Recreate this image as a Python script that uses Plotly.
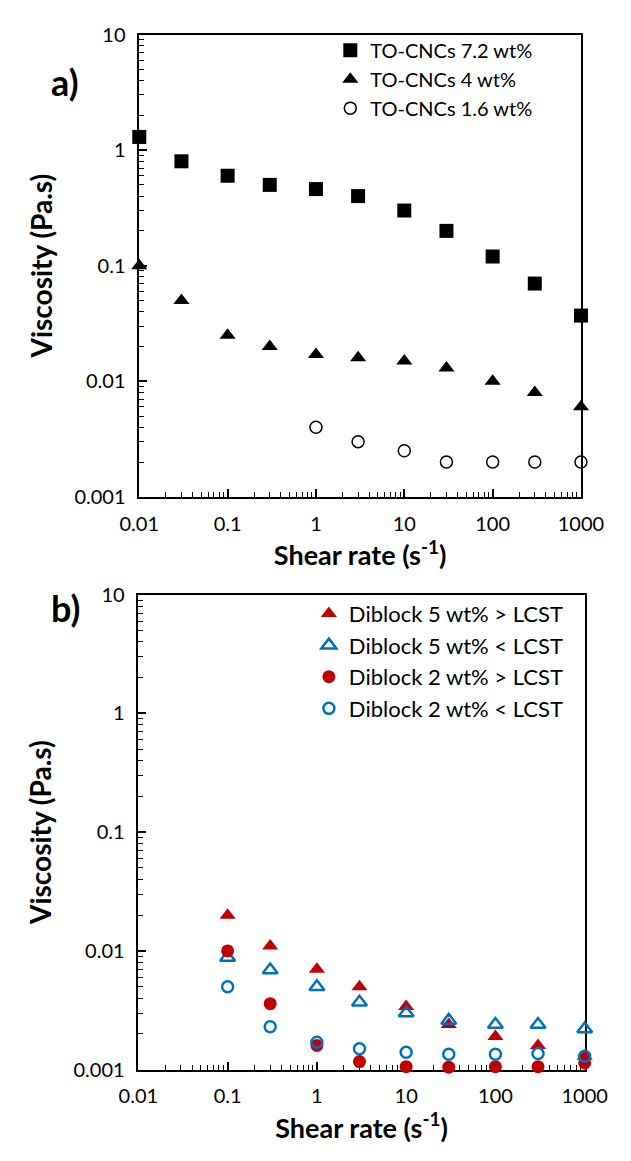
import plotly.graph_objects as go

# ---- data: panel a ----
x_a = [0.01, 0.03, 0.1, 0.3, 1, 3, 10, 30, 100, 300, 1000]
cnc_72 = [1.3, 0.8, 0.6, 0.5, 0.46, 0.4, 0.3, 0.2, 0.12, 0.07, 0.037]
cnc_4 = [0.1, 0.05, 0.025, 0.02, 0.017, 0.016, 0.015, 0.013, 0.01, 0.008, 0.006]
x_a16 = [1, 3, 10, 30, 100, 300, 1000]
cnc_16 = [0.004, 0.003, 0.0025, 0.002, 0.002, 0.002, 0.002]

# ---- data: panel b ----
x_b = [0.1, 0.3, 1, 3, 10, 30, 100, 300, 1000]
d5_above = [0.02, 0.011, 0.007, 0.005, 0.0034, 0.0024, 0.0019, 0.0016, 0.0013]
d5_below = [0.0088, 0.0069, 0.005, 0.0037, 0.003, 0.0026, 0.0024, 0.0024, 0.0022]
d2_above = [0.01, 0.0036, 0.0016, 0.00117, 0.00106, 0.00105, 0.00106, 0.00106, 0.00114]
d2_below = [0.005, 0.0023, 0.0017, 0.0015, 0.0014, 0.00135, 0.00135, 0.00137, 0.0013]

# ---- ticks ----
x_tickvals = [0.01, 0.1, 1, 10, 100, 1000]
x_ticktext = ["0.01", "0.1", "1", "10", "100", "1000"]
y_tickvals = [0.001, 0.01, 0.1, 1, 10]
y_ticktext = ["0.001", "0.01", "0.1", "1", "10"]

RED = "#C00000"
BLUE = "#0070C0"
FONT = "Lato, 'Noto Sans', sans-serif"
W, H = 631, 1161

fig = go.Figure()

fig.add_trace(go.Scatter(x=x_a, y=cnc_72, mode="markers", name="TO-CNCs 7.2 wt%",
                         marker=dict(symbol="square", size=14, color="black"),
                         xaxis="x", yaxis="y", legend="legend", cliponaxis=False))
fig.add_trace(go.Scatter(x=x_a, y=cnc_4, mode="markers", name="TO-CNCs 4 wt%",
                         marker=dict(symbol="triangle-up", size=14, color="black"),
                         xaxis="x", yaxis="y", legend="legend", cliponaxis=False))
fig.add_trace(go.Scatter(x=x_a16, y=cnc_16, mode="markers", name="TO-CNCs 1.6 wt%",
                         marker=dict(symbol="circle-open", size=12, color="black",
                                     line=dict(width=1.5, color="black")),
                         xaxis="x", yaxis="y", legend="legend", cliponaxis=False))

fig.add_trace(go.Scatter(x=x_b, y=d5_above, mode="markers", name="Diblock 5 wt% > LCST",
                         marker=dict(symbol="triangle-up", size=14, color=RED),
                         xaxis="x2", yaxis="y2", legend="legend2", cliponaxis=False))
fig.add_trace(go.Scatter(x=x_b, y=d5_below, mode="markers", name="Diblock 5 wt% < LCST",
                         marker=dict(symbol="triangle-up-open", size=13, color=BLUE,
                                     line=dict(width=2.5, color=BLUE)),
                         xaxis="x2", yaxis="y2", legend="legend2", cliponaxis=False))
fig.add_trace(go.Scatter(x=x_b, y=d2_above, mode="markers", name="Diblock 2 wt% > LCST",
                         marker=dict(symbol="circle", size=13, color=RED),
                         xaxis="x2", yaxis="y2", legend="legend2", cliponaxis=False))
fig.add_trace(go.Scatter(x=x_b, y=d2_below, mode="markers", name="Diblock 2 wt% < LCST",
                         marker=dict(symbol="circle-open", size=11, color=BLUE,
                                     line=dict(width=2.5, color=BLUE)),
                         xaxis="x2", yaxis="y2", legend="legend2", cliponaxis=False))


def xpx(px):
    return px / W


def ypx(py):
    return 1 - py / H


axis_common = dict(
    type="log", showline=True, linecolor="black", linewidth=1.5, mirror=True,
    ticks="inside", ticklen=8, tickwidth=1.5, tickcolor="black",
    showgrid=False, zeroline=False, ticklabelstandoff=8, layer="below traces",
    tickfont=dict(family=FONT, size=20, color="black"),
    minor=dict(ticks="inside", ticklen=5, tickwidth=1, tickcolor="black",
               dtick="D1", showgrid=False),
)
xtitle = dict(text="<b>Shear rate (s<sup>-1</sup>)</b>",
              font=dict(family=FONT, size=27, color="black"), standoff=12)
ytitle = dict(text="<b>Viscosity (Pa.s)</b>",
              font=dict(family=FONT, size=28, color="black"), standoff=14)

fig.update_layout(
    width=W, height=H,
    margin=dict(l=0, r=0, t=0, b=0),
    paper_bgcolor="white", plot_bgcolor="white",
    font=dict(family=FONT, color="black"),
    xaxis=dict(axis_common, domain=[xpx(128), xpx(602)], range=[-2, 3],
               tickvals=x_tickvals, ticktext=x_ticktext, anchor="y", title=xtitle),
    yaxis=dict(axis_common, domain=[ypx(494), ypx(22)], range=[-3, 1],
               tickvals=y_tickvals, ticktext=y_ticktext, anchor="x", title=ytitle),
    xaxis2=dict(axis_common, domain=[xpx(127), xpx(606)], range=[-2, 3],
                tickvals=x_tickvals, ticktext=x_ticktext, anchor="y2", title=xtitle),
    yaxis2=dict(axis_common, domain=[ypx(1079), ypx(594)], range=[-3, 1],
                tickvals=y_tickvals, ticktext=y_ticktext, anchor="x2", title=ytitle),
    legend=dict(x=xpx(333), y=ypx(18), xanchor="left", yanchor="top",
                bgcolor="rgba(0,0,0,0)", font=dict(family=FONT, size=20, color="black"),
                tracegroupgap=0, itemsizing="trace"),
    legend2=dict(x=xpx(310), y=ypx(592), xanchor="left", yanchor="top",
                 bgcolor="rgba(0,0,0,0)", font=dict(family=FONT, size=22, color="black"),
                 tracegroupgap=0, itemsizing="trace"),
    showlegend=True,
    annotations=[
        dict(text="<b>a)</b>", x=xpx(31), y=ypx(46), xref="paper", yref="paper",
             showarrow=False, font=dict(family=FONT, size=36, color="black")),
        dict(text="<b>b)</b>", x=xpx(31), y=ypx(608), xref="paper", yref="paper",
             showarrow=False, font=dict(family=FONT, size=36, color="black")),
    ],
)

fig.write_html("out.html")
